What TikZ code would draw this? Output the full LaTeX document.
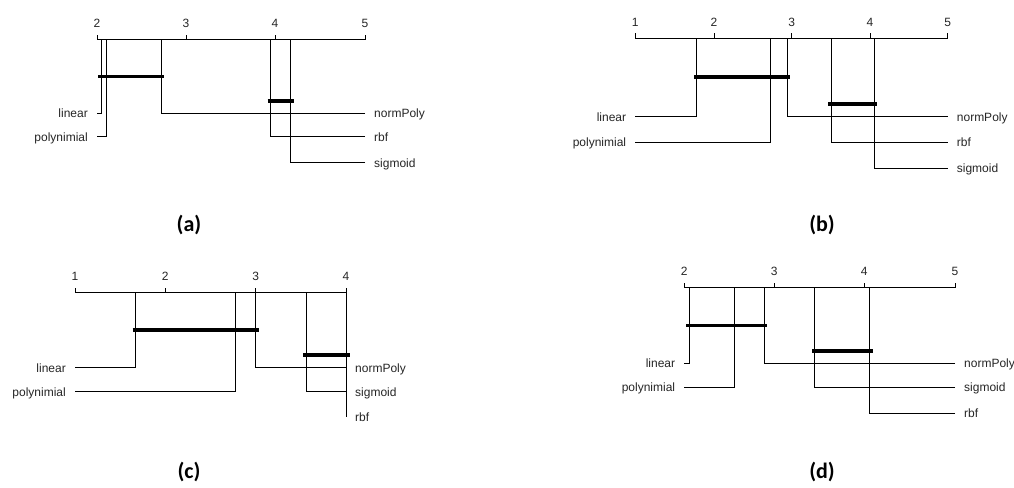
\documentclass[tikz,border=0pt]{standalone}
\usepackage{fontspec}
\setmainfont{Liberation Sans}
\newfontfamily\capfont{Carlito}
\tikzset{
  axisline/.style={line width=1pt, black},
  conn/.style={line width=1pt, black},
  cdbar/.style={line width=3.6pt, black},
  lbl/.style={font=\fontsize{12}{14}\selectfont, text=black!85, inner sep=0pt,
              text height=8.6pt, text depth=0pt},
  ticklbl/.style={lbl, anchor=base},
  caption/.style={font=\capfont\bfseries\fontsize{22}{26}\selectfont, inner sep=0pt},
}
% scale of average ranks: ticks with their numbers
\newcommand\cdaxis[3]{%
  \foreach \tx/\tl [count=\ti] in {#3}{
    \coordinate (#1-t\ti) at (\tx,#2);
    \node[ticklbl] (#1-n\ti) at (\tx,#2-12) {\tl};
    \draw[axisline] (#1-t\ti) -- ++(0,-5);
  }%
}
% method on the left: label, foot of the line, rank on the axis
\newcommand\cdleft[6]{%
  \coordinate (#1-foot) at (#5,#4);
  \coordinate (#1-top) at (#3,#6);
  \node[lbl,anchor=east] (#1) at ([xshift=-9pt]#1-foot) {#2};
  \draw[conn] (#1-foot) -| (#1-top);
}
% method on the right
\newcommand\cdright[6]{%
  \coordinate (#1-foot) at (#5,#4);
  \coordinate (#1-top) at (#3,#6);
  \node[lbl,anchor=west] (#1) at ([xshift=9pt]#1-foot) {#2};
  \draw[conn] (#1-foot) -| (#1-top);
}
\begin{document}
\begin{tikzpicture}[x=1pt,y=-1pt]
\useasboundingbox[fill=white] (0,0) rectangle (1014,487);

% ---------- (a) ----------
\cdaxis{a}{40}{97/2,186/3,275/4,365/5}
\draw[axisline] (a-t1) -- (a-t4);
\cdleft{a-linear}{linear}{101}{113.3}{97}{40}
\cdleft{a-poly}{polynimial}{106.7}{136.7}{97}{40}
\cdright{a-norm}{normPoly}{161.7}{113.3}{365}{40}
\cdright{a-rbf}{rbf}{270}{136.7}{365}{40}
\cdright{a-sig}{sigmoid}{290}{162.7}{365}{40}
\draw[cdbar] (98,76.3) -- (164,76.3);
\draw[cdbar] (267.7,101) -- (294,101);
\node[caption] (capa) at (189,225) {(a)};

% ---------- (b) ----------
\cdaxis{b}{38.3}{635.3/1,714/2,791.7/3,870/4,947.7/5}
\draw[axisline] (b-t1) -- (b-t5);
\cdleft{b-linear}{linear}{696.7}{116.7}{635.3}{38.3}
\cdleft{b-poly}{polynimial}{770}{142}{635.3}{38.3}
\cdright{b-norm}{normPoly}{787.3}{116.7}{947.7}{38.3}
\cdright{b-rbf}{rbf}{831}{142}{947.7}{38.3}
\cdright{b-sig}{sigmoid}{874.3}{168}{947.7}{38.3}
\draw[cdbar] (694,77) -- (790,77);
\draw[cdbar] (828.3,103.7) -- (877.3,103.7);
\node[caption] (capb) at (822,225) {(b)};

% ---------- (c) ----------
\cdaxis{c}{292.7}{75/1,165.3/2,255.7/3,346/4}
\draw[axisline] (c-t1) -- (c-t4);
\cdleft{c-linear}{linear}{135.3}{367.7}{75}{292.7}
\cdleft{c-poly}{polynimial}{235.3}{391.7}{75}{292.7}
\cdright{c-norm}{normPoly}{255.7}{367.7}{346}{292.7}
\cdright{c-sig}{sigmoid}{306.7}{391.7}{346}{292.7}
\cdright{c-rbf}{rbf}{346}{416.7}{346}{292.7}
\draw[cdbar] (132.7,330) -- (259,330);
\draw[cdbar] (303.3,355) -- (350,355);
\node[caption] (capc) at (189,472) {(c)};

% ---------- (d) ----------
\cdaxis{d}{287.7}{684.3/2,774.3/3,864.3/4,955/5}
\draw[axisline] (d-t1) -- (d-t4);
\cdleft{d-linear}{linear}{689.3}{363.3}{684.3}{287.7}
\cdleft{d-poly}{polynimial}{734.3}{387.3}{684.3}{287.7}
\cdright{d-norm}{normPoly}{764.3}{363.3}{955}{287.7}
\cdright{d-sig}{sigmoid}{814.3}{387.3}{955}{287.7}
\cdright{d-rbf}{rbf}{869.3}{413.3}{955}{287.7}
\draw[cdbar] (686,325.3) -- (766.7,325.3);
\draw[cdbar] (812,350.7) -- (873.3,350.7);
\node[caption] (capd) at (822,472) {(d)};
\end{tikzpicture}
\end{document}
